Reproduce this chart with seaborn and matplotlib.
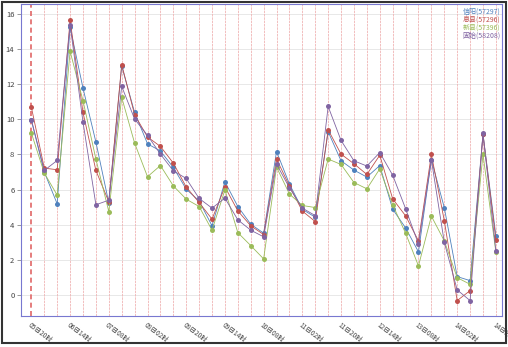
import numpy as np
import pandas as pd
import matplotlib
matplotlib.use("Agg")
import matplotlib.pyplot as plt
from matplotlib.patches import Rectangle
import seaborn as sns

stations = ["信阳(57297)", "息县(57296)", "新县(57396)", "固始(58208)"]
colors = ["#4F81BD", "#C0504D", "#9BBB59", "#8064A2"]

xinyang = [9.95, 7.0, 5.18, 15.26, 11.79, 8.71, 5.24, 13.05, 10.4, 8.61, 8.2, 7.26, 6.02, 5.35, 3.93, 6.44, 5.03, 4.02, 3.51,
           8.17, 6.31, 4.87, 4.42, 9.3, 7.64, 7.11, 6.71, 7.37, 4.88, 3.81, 2.44, 7.7, 4.97, 1.03, 0.8, 9.15, 3.37]
xixian = [10.69, 7.22, 7.13, 15.66, 10.4, 7.09, 5.3, 13.13, 10.27, 9.0, 8.46, 7.51, 6.14, 5.26, 4.31, 6.15, 4.78, 3.93, 3.43,
          7.74, 6.2, 4.77, 4.17, 9.41, 8.02, 7.47, 6.86, 7.96, 5.47, 4.5, 3.07, 8.0, 4.23, -0.34, 0.23, 9.15, 3.13]
xinxian = [9.22, 6.94, 5.68, 13.89, 11.07, 7.74, 4.74, 11.26, 8.65, 6.73, 7.37, 6.21, 5.45, 5.03, 3.68, 5.98, 3.54, 2.8, 2.04,
           7.28, 5.74, 5.09, 4.97, 7.74, 7.43, 6.4, 6.04, 7.18, 5.13, 3.51, 1.64, 4.48, 3.07, 0.97, 0.59, 8.02, 2.42]
gushi = [9.98, 7.09, 7.66, 15.4, 9.85, 5.13, 5.39, 11.89, 10.02, 9.09, 8.02, 7.07, 6.63, 5.49, 4.94, 5.51, 4.27, 3.68, 3.3,
         7.45, 6.1, 4.94, 4.51, 10.74, 8.8, 7.64, 7.34, 8.11, 6.82, 4.91, 2.88, 7.7, 2.99, 0.27, -0.34, 9.2, 2.48]

tick_labels = ["05日20时", "06日14时", "07日08时", "08日02时", "08日20时", "09日14时", "10日08时",
               "11日02时", "11日20时", "12日14时", "13日08时", "14日02时", "14日20时"]

series = [xinyang, xixian, xinxian, gushi]
n = len(xinyang)
idx = list(range(n))
df = pd.concat([pd.DataFrame({"idx": idx, "val": s, "station": name}) for s, name in zip(series, stations)],
               ignore_index=True)

sns.set_style("white")
plt.rcParams['font.family'] = ['Noto Sans CJK SC', 'DejaVu Sans']

fig = plt.figure(figsize=(5.08, 3.47), dpi=100)
ax = fig.add_axes([0.0407, 0.0893, 0.9469, 0.8992])

# grid
for y in range(0, 17, 2):
    ax.axhline(y, color="#e4e4e4", lw=0.6, zorder=0)
for i in idx:
    if i == 0:
        ax.axvline(i, color="#e06666", lw=1.2, ls=(0, (3, 2)), zorder=0.5)
    else:
        ax.axvline(i, color="#f0b4b4", lw=0.6, ls=(0, (3, 1)), zorder=0.5)

sns.lineplot(data=df, x="idx", y="val", hue="station", palette=colors, hue_order=stations,
             marker="o", markersize=3.6, markeredgewidth=0, linewidth=0.6, legend=False,
             sort=False, estimator=None, ax=ax, zorder=3)

ax.set_xlim(-0.83, 36.45)
ax.set_ylim(-1.22, 16.59)
ax.set_yticks(range(0, 17, 2))
ax.set_yticklabels([str(v) for v in range(0, 17, 2)])
ax.set_xticks(idx[::3])
ax.set_xticklabels(tick_labels, rotation=-37, ha="left", va="top", rotation_mode="anchor")
ax.set_xlabel("")
ax.set_ylabel("")
ax.tick_params(axis="y", length=3, width=0.6, color="#888888", labelsize=5.5, labelcolor="#444444", pad=1.5, left=True)
ax.tick_params(axis="x", length=0, labelsize=4.8, labelcolor="#444444", pad=3.5)

for sp in ax.spines.values():
    sp.set_color("#7878d0")
    sp.set_linewidth(0.8)

for k, (name, c) in enumerate(zip(stations, colors)):
    ax.text(0.997, 0.988 - k * 0.026, name, color=c, fontsize=5, ha="right", va="top",
            transform=ax.transAxes)

fig.patches.append(Rectangle((0.004, 0.0115), 0.992, 0.983, transform=fig.transFigure,
                             fill=False, edgecolor="#333333", lw=1.5))

fig.savefig("out.png", dpi=100)
